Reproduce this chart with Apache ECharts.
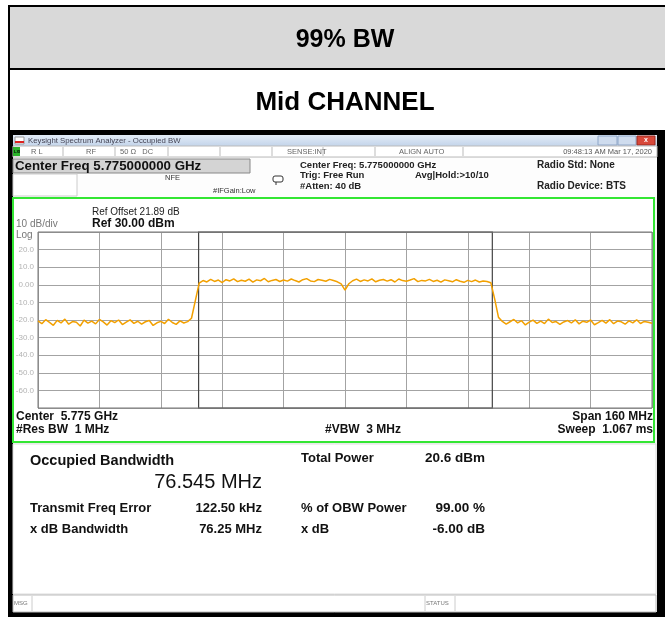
<!DOCTYPE html>
<html>
<head>
<meta charset="utf-8">
<script src="https://cdn.jsdelivr.net/npm/echarts@6/dist/echarts.min.js"></script>
<style>
  html, body { margin: 0; padding: 0; background: #fff; }
  #chart { width: 665px; height: 617px; }
</style>
</head>
<body>
<div id="chart"></div>
<script>
// 频谱数据：以中心频率为0的偏移 (MHz)，每1 MHz一个点
const freqStart = -80;
const freqStep = 1;
// -80 ~ -41 MHz 底噪
const lowerSkirt = [-20.5, -22.1, -19.8, -21.4, -23.0, -20.2, -21.7, -19.5, -22.4, -20.9,
  -21.3, -23.4, -20.1, -21.8, -20.6, -22.2, -19.7, -21.1, -22.9, -20.4,
  -21.5, -20.0, -22.6, -21.2, -19.9, -21.9, -20.7, -22.3, -21.0, -20.3,
  -23.1, -21.6, -20.8, -22.0, -19.6, -21.4, -22.5, -20.5, -21.7, -20.9];
// -40, -39 上升沿
const lowerEdge = [-19.0, -9.0];
// -38 ~ 38 信道内
const channel = [1.0, 2.4, 1.6, 3.1, 1.9, 2.7, 1.3, 2.9, 2.2, 3.4,
  1.8, 2.6, 2.0, 3.2, 1.5, 2.8, 2.3, 3.6, 1.7, 2.5,
  3.0, 1.9, 2.7, 2.1, 3.3, 2.4, 1.6, 2.9, 3.5, 2.2,
  1.8, 3.0, 2.6, 2.0, 3.1, 2.4, 1.7, 0.5,
  -3.0,
  0.6, 2.3, 3.2, 1.9, 2.8, 2.2, 3.4, 1.7, 2.6, 3.0,
  2.1, 2.9, 1.6, 3.3, 2.4, 2.0, 2.7, 3.5, 1.8, 2.5,
  2.2, 3.1, 1.9, 2.6, 1.5, 2.8, 2.3, 1.7, 2.9, 2.0,
  1.4, 2.5, 1.8, 2.7, 1.6, 2.2, 1.9, 1.2];
// 39, 40 下降沿
const upperEdge = [-8.0, -18.5];
// 41 ~ 80 MHz 底噪
const upperSkirt = [-20.8, -22.3, -21.0, -19.7, -21.6, -20.4, -22.8, -21.2, -20.1, -21.9,
  -20.6, -22.0, -19.5, -21.4, -20.9, -22.5, -21.1, -20.3, -21.7, -19.9,
  -22.2, -20.7, -21.3, -20.0, -22.7, -21.5, -20.2, -21.8, -19.8, -22.1,
  -20.6, -21.0, -22.4, -20.5, -21.6, -19.9, -22.0, -20.8, -21.3, -21.9];

// OBW 两侧标记 (MHz 偏移)
const obwEdges = [-38.15, 38.39];

// y轴刻度文字（从上到下）
const yTickValues = [30, 20, 10, 0, -10, -20, -30, -40, -50, -60, -70];
const yTickLabels = ['', '20.0', '10.0', '0.00', '-10.0', '-20.0', '-30.0', '-40.0', '-50.0', '-60.0', ''];

// 测量结果
const resultRows = [
  ['Transmit Freq Error', '122.50 kHz', '% of OBW Power', '99.00 %'],
  ['x dB Bandwidth', '76.25 MHz', 'x dB', '-6.00 dB']
];

(function () {
  const myChart = echarts.init(document.getElementById('chart'), null, { renderer: 'canvas' });
  const levels = lowerSkirt.concat(lowerEdge, channel, upperEdge, upperSkirt);
  const trace = levels.map((v, i) => [freqStart + i * freqStep, v]);
  const labelMap = {};
  yTickValues.forEach((v, i) => { labelMap[v] = yTickLabels[i]; });

  const F = '"Liberation Sans", Arial, sans-serif';
  const txt = (x, y, text, size, opt) => ({
    type: 'text', x: x, y: y, silent: true,
    style: { text: text, font: (opt && opt.bold ? 'bold ' : '') + size + 'px ' + F,
      fill: (opt && opt.fill) || '#222', textVerticalAlign: 'middle',
      textAlign: (opt && opt.align) || 'left' }
  });
  const rect = (x, y, w, h, fill, stroke, lw) => ({
    type: 'rect', silent: true, shape: { x: x, y: y, width: w, height: h },
    style: { fill: fill, stroke: stroke || null, lineWidth: lw || 1 }
  });
  const line = (x1, y1, x2, y2, stroke, lw) => ({
    type: 'line', silent: true, shape: { x1: x1, y1: y1, x2: x2, y2: y2 },
    style: { stroke: stroke, lineWidth: lw || 1 }
  });

  const g = [];
  // 外层表格
  g.push(rect(9, 6, 660, 63, '#d9d9d9'));
  g.push(line(8, 6, 665, 6, '#000', 2));
  g.push(line(9, 5, 9, 617, '#000', 2));
  g.push(line(8, 69, 665, 69, '#000', 2));
  g.push(line(8, 131, 665, 131, '#000', 2));
  g.push(txt(345, 40, '99% BW', 25, { bold: true, align: 'center', fill: '#000' }));
  g.push(txt(345, 103, 'Mid CHANNEL', 26, { bold: true, align: 'center', fill: '#000' }));

  // 截图外框
  g.push(rect(10, 132, 655, 485, '#000'));
  g.push(rect(13, 135, 644, 477, '#f5f5f5'));
  // 标题栏
  g.push({
    type: 'rect', silent: true, shape: { x: 13, y: 135, width: 644, height: 11 },
    style: { fill: new echarts.graphic.LinearGradient(0, 0, 0, 1, [
      { offset: 0, color: '#e3ecf7' }, { offset: 1, color: '#c3d4ea' }]) }
  });
  g.push(rect(15, 137, 9, 7, '#fff', '#999'));
  g.push(rect(15, 141, 9, 2, '#d22'));
  g.push(txt(28, 141, 'Keysight Spectrum Analyzer - Occupied BW', 7.8, { fill: '#445' }));
  g.push(rect(598, 136, 19, 9, '#cfdcee', '#8ea6c8'));
  g.push(rect(618, 136, 18, 9, '#cfdcee', '#8ea6c8'));
  g.push(rect(637, 136, 18, 9, '#d8483a', '#9a2a20'));
  g.push(txt(646, 140.5, 'x', 7, { bold: true, align: 'center', fill: '#fff' }));

  // 状态行
  g.push(rect(13, 146, 644, 11, '#fff', '#bbb'));
  g.push(rect(13, 147, 7, 9, '#2bb32b'));
  g.push(txt(14, 151.5, 'LXI', 4, { bold: true, fill: '#000' }));
  [63, 115, 168, 220, 272, 323, 375, 463].forEach(x => g.push(line(x, 147, x, 156, '#bbb')));
  g.push(txt(31, 151.5, 'R L', 7.5, { fill: '#666' }));
  g.push(txt(86, 151.5, 'RF', 7.5, { fill: '#666' }));
  g.push(txt(120, 151.5, '50 Ω   DC', 7.5, { fill: '#666' }));
  g.push(txt(287, 151.5, 'SENSE:INT', 7.5, { fill: '#666' }));
  g.push(txt(399, 151.5, 'ALIGN AUTO', 7.5, { fill: '#666' }));
  g.push(txt(652, 151.5, '09:48:13 AM Mar 17, 2020', 7.5, { fill: '#555', align: 'right' }));

  // 参数区
  g.push(rect(13, 158, 644, 39, '#fdfdfd'));
  g.push(rect(13, 159, 237, 14, '#d4d4d4', '#888'));
  g.push(txt(15, 166.5, 'Center Freq 5.775000000 GHz', 13.3, { bold: true, fill: '#111' }));
  g.push(rect(13, 174, 64, 22, '#fff', '#ccc'));
  g.push(txt(165, 178, 'NFE', 7.5, { fill: '#333' }));
  g.push(txt(213, 191, '#IFGain:Low', 7.5, { fill: '#333' }));
  g.push({ type: 'rect', silent: true, shape: { x: 273, y: 176, width: 10, height: 6, r: 2 },
    style: { fill: '#fff', stroke: '#333', lineWidth: 1 } });
  g.push(line(276, 182, 276, 185, '#333'));
  g.push(txt(300, 165, 'Center Freq: 5.775000000 GHz', 9.5, { bold: true }));
  g.push(txt(300, 175.5, 'Trig: Free Run', 9.5, { bold: true }));
  g.push(txt(300, 186, '#Atten: 40 dB', 9.5, { bold: true }));
  g.push(txt(415, 175.5, 'Avg|Hold:>10/10', 9.5, { bold: true }));
  g.push(txt(537, 165, 'Radio Std: None', 10, { bold: true }));
  g.push(txt(537, 186, 'Radio Device: BTS', 10, { bold: true }));

  // 绿色框图表区
  g.push(rect(13, 198, 641, 244, '#fff', '#33e633', 2));
  g.push(txt(16, 224, '10 dB/div', 10, { fill: '#777' }));
  g.push(txt(16, 235, 'Log', 10, { fill: '#777' }));
  g.push(txt(92, 212.5, 'Ref Offset 21.89 dB', 10, { fill: '#222' }));
  g.push(txt(92, 224, 'Ref 30.00 dBm', 12, { bold: true, fill: '#111' }));
  g.push(txt(16, 417, 'Center  5.775 GHz', 12, { bold: true, fill: '#111' }));
  g.push(txt(16, 430, '#Res BW  1 MHz', 12, { bold: true, fill: '#111' }));
  g.push(txt(325, 430, '#VBW  3 MHz', 12, { bold: true, fill: '#111' }));
  g.push(txt(653, 417, 'Span 160 MHz', 12, { bold: true, fill: '#111', align: 'right' }));
  g.push(txt(653, 430, 'Sweep  1.067 ms', 12, { bold: true, fill: '#111', align: 'right' }));

  // 结果区
  g.push(rect(13, 444, 643, 150, '#fff', '#ddd'));
  g.push(txt(30, 461, 'Occupied Bandwidth', 14.5, { bold: true, fill: '#111' }));
  g.push(txt(262, 482, '76.545 MHz', 20, { fill: '#111', align: 'right' }));
  g.push(txt(301, 458, 'Total Power', 13, { bold: true, fill: '#111' }));
  g.push(txt(485, 458, '20.6 dBm', 13.5, { bold: true, fill: '#111', align: 'right' }));
  resultRows.forEach((r, i) => {
    const y = 508 + i * 21;
    g.push(txt(30, y, r[0], 13, { bold: true, fill: '#111' }));
    g.push(txt(262, y, r[1], 13, { bold: true, fill: '#111', align: 'right' }));
    g.push(txt(301, y, r[2], 13, { bold: true, fill: '#111' }));
    g.push(txt(485, y, r[3], 13.5, { bold: true, fill: '#111', align: 'right' }));
  });

  // MSG 栏
  g.push(rect(13, 595, 643, 17, '#fff', '#bbb'));
  g.push(line(32, 596, 32, 611, '#ccc'));
  g.push(line(425, 596, 425, 611, '#ccc'));
  g.push(line(455, 596, 455, 611, '#ccc'));
  g.push(txt(14, 603.5, 'MSG', 6, { fill: '#777' }));
  g.push(txt(426, 603.5, 'STATUS', 6, { fill: '#777' }));

  const option = {
    animation: false,
    backgroundColor: '#fff',
    graphic: { elements: g },
    grid: {
      left: 38, top: 232, width: 614, height: 176,
      show: true, borderColor: '#777', borderWidth: 1, z: 10
    },
    xAxis: {
      type: 'value', min: -80, max: 80, interval: 16,
      axisLine: { show: false }, axisTick: { show: false }, axisLabel: { show: false },
      splitLine: { lineStyle: { color: '#a3a3a3', width: 1 } }
    },
    yAxis: {
      type: 'value', min: -70, max: 30, interval: 10,
      axisLine: { show: false }, axisTick: { show: false },
      axisLabel: {
        margin: 4, fontSize: 8, color: '#b3b3b3', fontFamily: 'Liberation Sans',
        formatter: v => labelMap[v] !== undefined ? labelMap[v] : ''
      },
      splitLine: { lineStyle: { color: '#a3a3a3', width: 1 } }
    },
    series: [{
      type: 'line', data: trace, showSymbol: false, symbol: 'none',
      lineStyle: { color: '#f2a000', width: 1.5 },
      z: 20,
      markArea: {
        silent: true,
        itemStyle: { color: 'rgba(0,0,0,0)', borderColor: '#444', borderWidth: 1.2 },
        data: [[{ xAxis: obwEdges[0], yAxis: 30 }, { xAxis: obwEdges[1], yAxis: -70 }]]
      }
    }]
  };
  myChart.setOption(option);
  window.addEventListener('resize', function () { myChart.resize(); });
})();
</script>
</body>
</html>
